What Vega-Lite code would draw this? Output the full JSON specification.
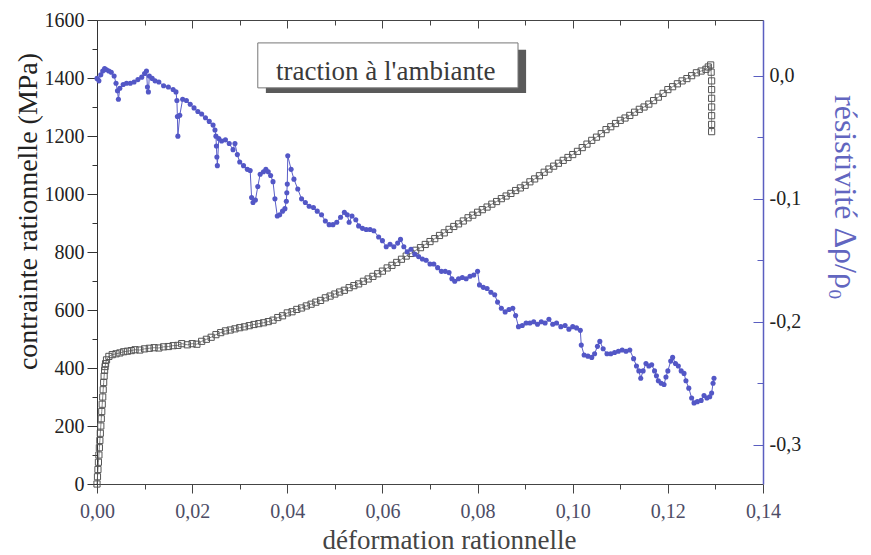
{
  "$schema": "https://vega.github.io/schema/vega-lite/v6.json",
  "width": 666,
  "height": 464,
  "autosize": {"type": "none"},
  "padding": {"left": 97, "top": 20, "right": 108, "bottom": 71},
  "background": "white",
  "config": {
    "view": {"stroke": null},
    "axis": {"grid": false, "labelFont": "Liberation Serif", "titleFont": "Liberation Serif", "titleFontWeight": "normal", "labelFlush": false, "labelOverlap": false}
  },
  "datasets": {
    "stress": [
      {"strain": 0.0000, "stress": 0}, {"strain": 0.0001, "stress": 25}, {"strain": 0.0002, "stress": 50},
      {"strain": 0.0003, "stress": 75}, {"strain": 0.0004, "stress": 100}, {"strain": 0.0005, "stress": 125},
      {"strain": 0.0006, "stress": 150}, {"strain": 0.0007, "stress": 175}, {"strain": 0.0008, "stress": 200},
      {"strain": 0.0009, "stress": 225}, {"strain": 0.0010, "stress": 250}, {"strain": 0.0011, "stress": 275},
      {"strain": 0.0012, "stress": 300}, {"strain": 0.0013, "stress": 325}, {"strain": 0.0014, "stress": 350},
      {"strain": 0.0015, "stress": 372}, {"strain": 0.0016, "stress": 392}, {"strain": 0.0017, "stress": 405},
      {"strain": 0.0018, "stress": 415}, {"strain": 0.0020, "stress": 428}, {"strain": 0.0025, "stress": 440},
      {"strain": 0.0032, "stress": 446}, {"strain": 0.0040, "stress": 449}, {"strain": 0.0048, "stress": 452},
      {"strain": 0.0056, "stress": 456}, {"strain": 0.0064, "stress": 458}, {"strain": 0.0072, "stress": 460},
      {"strain": 0.0080, "stress": 463}, {"strain": 0.0090, "stress": 462}, {"strain": 0.0100, "stress": 466},
      {"strain": 0.0110, "stress": 468}, {"strain": 0.0120, "stress": 470}, {"strain": 0.0130, "stress": 469},
      {"strain": 0.0140, "stress": 473}, {"strain": 0.0150, "stress": 474}, {"strain": 0.0160, "stress": 477},
      {"strain": 0.0170, "stress": 478}, {"strain": 0.0178, "stress": 484}, {"strain": 0.0190, "stress": 480},
      {"strain": 0.0200, "stress": 484}, {"strain": 0.0210, "stress": 482}, {"strain": 0.0220, "stress": 492},
      {"strain": 0.0230, "stress": 499}, {"strain": 0.0240, "stress": 506}, {"strain": 0.0250, "stress": 515},
      {"strain": 0.0260, "stress": 522}, {"strain": 0.0270, "stress": 528}, {"strain": 0.0280, "stress": 531},
      {"strain": 0.0290, "stress": 535}, {"strain": 0.0300, "stress": 539}, {"strain": 0.0310, "stress": 542},
      {"strain": 0.0320, "stress": 546}, {"strain": 0.0330, "stress": 550}, {"strain": 0.0340, "stress": 553},
      {"strain": 0.0350, "stress": 556}, {"strain": 0.0360, "stress": 560}, {"strain": 0.0370, "stress": 565},
      {"strain": 0.0380, "stress": 574}, {"strain": 0.0390, "stress": 580}, {"strain": 0.0400, "stress": 590},
      {"strain": 0.0410, "stress": 594}, {"strain": 0.0420, "stress": 602}, {"strain": 0.0430, "stress": 607},
      {"strain": 0.0440, "stress": 614}, {"strain": 0.0450, "stress": 620}, {"strain": 0.0460, "stress": 627},
      {"strain": 0.0470, "stress": 633}, {"strain": 0.0480, "stress": 642}, {"strain": 0.0490, "stress": 648},
      {"strain": 0.0500, "stress": 655}, {"strain": 0.0510, "stress": 662}, {"strain": 0.0520, "stress": 668},
      {"strain": 0.0530, "stress": 677}, {"strain": 0.0540, "stress": 684}, {"strain": 0.0550, "stress": 690},
      {"strain": 0.0560, "stress": 699}, {"strain": 0.0570, "stress": 707}, {"strain": 0.0580, "stress": 716},
      {"strain": 0.0590, "stress": 725}, {"strain": 0.0600, "stress": 734}, {"strain": 0.0610, "stress": 745},
      {"strain": 0.0620, "stress": 754}, {"strain": 0.0630, "stress": 764}, {"strain": 0.0640, "stress": 775},
      {"strain": 0.0650, "stress": 786}, {"strain": 0.0660, "stress": 795}, {"strain": 0.0670, "stress": 806},
      {"strain": 0.0680, "stress": 815}, {"strain": 0.0690, "stress": 826}, {"strain": 0.0700, "stress": 836},
      {"strain": 0.0710, "stress": 846}, {"strain": 0.0720, "stress": 857}, {"strain": 0.0730, "stress": 866},
      {"strain": 0.0740, "stress": 878}, {"strain": 0.0750, "stress": 888}, {"strain": 0.0760, "stress": 897},
      {"strain": 0.0770, "stress": 907}, {"strain": 0.0780, "stress": 918}, {"strain": 0.0790, "stress": 927},
      {"strain": 0.0800, "stress": 937}, {"strain": 0.0810, "stress": 946}, {"strain": 0.0820, "stress": 955},
      {"strain": 0.0830, "stress": 965}, {"strain": 0.0840, "stress": 974}, {"strain": 0.0850, "stress": 984},
      {"strain": 0.0860, "stress": 993}, {"strain": 0.0870, "stress": 1002}, {"strain": 0.0880, "stress": 1012},
      {"strain": 0.0890, "stress": 1021}, {"strain": 0.0900, "stress": 1030}, {"strain": 0.0910, "stress": 1042},
      {"strain": 0.0920, "stress": 1052}, {"strain": 0.0930, "stress": 1063}, {"strain": 0.0940, "stress": 1075},
      {"strain": 0.0950, "stress": 1086}, {"strain": 0.0960, "stress": 1096}, {"strain": 0.0970, "stress": 1106},
      {"strain": 0.0980, "stress": 1116}, {"strain": 0.0990, "stress": 1126}, {"strain": 0.1000, "stress": 1136},
      {"strain": 0.1010, "stress": 1147}, {"strain": 0.1020, "stress": 1160}, {"strain": 0.1030, "stress": 1172},
      {"strain": 0.1040, "stress": 1185}, {"strain": 0.1050, "stress": 1196}, {"strain": 0.1060, "stress": 1208},
      {"strain": 0.1070, "stress": 1222}, {"strain": 0.1080, "stress": 1232}, {"strain": 0.1090, "stress": 1243},
      {"strain": 0.1100, "stress": 1254}, {"strain": 0.1110, "stress": 1262}, {"strain": 0.1120, "stress": 1271},
      {"strain": 0.1130, "stress": 1282}, {"strain": 0.1140, "stress": 1292}, {"strain": 0.1150, "stress": 1300},
      {"strain": 0.1160, "stress": 1310}, {"strain": 0.1170, "stress": 1322}, {"strain": 0.1180, "stress": 1334},
      {"strain": 0.1190, "stress": 1347}, {"strain": 0.1200, "stress": 1360}, {"strain": 0.1210, "stress": 1370},
      {"strain": 0.1220, "stress": 1380}, {"strain": 0.1230, "stress": 1390}, {"strain": 0.1240, "stress": 1398},
      {"strain": 0.1250, "stress": 1408}, {"strain": 0.1260, "stress": 1418}, {"strain": 0.1270, "stress": 1424},
      {"strain": 0.1280, "stress": 1430}, {"strain": 0.1285, "stress": 1438}, {"strain": 0.1290, "stress": 1445},
      {"strain": 0.1291, "stress": 1420}, {"strain": 0.1292, "stress": 1390}, {"strain": 0.1292, "stress": 1360},
      {"strain": 0.1292, "stress": 1330}, {"strain": 0.1292, "stress": 1300}, {"strain": 0.1292, "stress": 1270},
      {"strain": 0.1292, "stress": 1240}, {"strain": 0.1292, "stress": 1215}
    ],
    "rho": [
      {"strain": 0.0000, "rho": -0.002}, {"strain": 0.0004, "rho": -0.004}, {"strain": 0.0008, "rho": 0.001},
      {"strain": 0.0012, "rho": 0.004}, {"strain": 0.0016, "rho": 0.006}, {"strain": 0.0020, "rho": 0.005},
      {"strain": 0.0025, "rho": 0.004}, {"strain": 0.0030, "rho": 0.003}, {"strain": 0.0036, "rho": 0.000},
      {"strain": 0.0040, "rho": -0.006}, {"strain": 0.0043, "rho": -0.012}, {"strain": 0.0045, "rho": -0.019},
      {"strain": 0.0048, "rho": -0.010}, {"strain": 0.0055, "rho": -0.007}, {"strain": 0.0062, "rho": -0.006},
      {"strain": 0.0070, "rho": -0.006}, {"strain": 0.0078, "rho": -0.005}, {"strain": 0.0086, "rho": -0.003},
      {"strain": 0.0094, "rho": -0.001}, {"strain": 0.0100, "rho": 0.002}, {"strain": 0.0104, "rho": 0.004},
      {"strain": 0.0106, "rho": -0.009}, {"strain": 0.0108, "rho": -0.013}, {"strain": 0.0110, "rho": 0.000},
      {"strain": 0.0116, "rho": -0.002}, {"strain": 0.0122, "rho": -0.004}, {"strain": 0.0130, "rho": -0.005},
      {"strain": 0.0140, "rho": -0.008}, {"strain": 0.0150, "rho": -0.009}, {"strain": 0.0160, "rho": -0.011},
      {"strain": 0.0166, "rho": -0.013}, {"strain": 0.0168, "rho": -0.020}, {"strain": 0.0169, "rho": -0.033},
      {"strain": 0.0170, "rho": -0.049}, {"strain": 0.0174, "rho": -0.032}, {"strain": 0.0180, "rho": -0.019},
      {"strain": 0.0188, "rho": -0.020}, {"strain": 0.0196, "rho": -0.023}, {"strain": 0.0204, "rho": -0.026},
      {"strain": 0.0212, "rho": -0.029}, {"strain": 0.0220, "rho": -0.031}, {"strain": 0.0228, "rho": -0.034},
      {"strain": 0.0236, "rho": -0.037}, {"strain": 0.0244, "rho": -0.040}, {"strain": 0.0248, "rho": -0.044},
      {"strain": 0.0250, "rho": -0.049}, {"strain": 0.0251, "rho": -0.057}, {"strain": 0.0252, "rho": -0.066},
      {"strain": 0.0253, "rho": -0.073}, {"strain": 0.0256, "rho": -0.051}, {"strain": 0.0262, "rho": -0.053},
      {"strain": 0.0270, "rho": -0.052}, {"strain": 0.0278, "rho": -0.055}, {"strain": 0.0286, "rho": -0.060},
      {"strain": 0.0290, "rho": -0.055}, {"strain": 0.0295, "rho": -0.064}, {"strain": 0.0300, "rho": -0.070},
      {"strain": 0.0308, "rho": -0.073}, {"strain": 0.0316, "rho": -0.076}, {"strain": 0.0322, "rho": -0.077},
      {"strain": 0.0325, "rho": -0.099}, {"strain": 0.0328, "rho": -0.103}, {"strain": 0.0333, "rho": -0.101},
      {"strain": 0.0338, "rho": -0.090}, {"strain": 0.0343, "rho": -0.080}, {"strain": 0.0350, "rho": -0.078},
      {"strain": 0.0355, "rho": -0.076}, {"strain": 0.0360, "rho": -0.078}, {"strain": 0.0365, "rho": -0.081},
      {"strain": 0.0370, "rho": -0.086}, {"strain": 0.0374, "rho": -0.100}, {"strain": 0.0379, "rho": -0.114},
      {"strain": 0.0384, "rho": -0.113}, {"strain": 0.0390, "rho": -0.110}, {"strain": 0.0395, "rho": -0.108},
      {"strain": 0.0398, "rho": -0.102}, {"strain": 0.0399, "rho": -0.095}, {"strain": 0.0400, "rho": -0.088},
      {"strain": 0.0401, "rho": -0.065}, {"strain": 0.0408, "rho": -0.076}, {"strain": 0.0414, "rho": -0.084},
      {"strain": 0.0422, "rho": -0.092}, {"strain": 0.0430, "rho": -0.100}, {"strain": 0.0438, "rho": -0.103},
      {"strain": 0.0446, "rho": -0.106}, {"strain": 0.0455, "rho": -0.107}, {"strain": 0.0463, "rho": -0.110},
      {"strain": 0.0472, "rho": -0.113}, {"strain": 0.0480, "rho": -0.118}, {"strain": 0.0488, "rho": -0.121},
      {"strain": 0.0496, "rho": -0.121}, {"strain": 0.0504, "rho": -0.119}, {"strain": 0.0512, "rho": -0.115},
      {"strain": 0.0520, "rho": -0.111}, {"strain": 0.0526, "rho": -0.113}, {"strain": 0.0530, "rho": -0.119},
      {"strain": 0.0536, "rho": -0.114}, {"strain": 0.0544, "rho": -0.117}, {"strain": 0.0550, "rho": -0.122},
      {"strain": 0.0558, "rho": -0.124}, {"strain": 0.0566, "rho": -0.125}, {"strain": 0.0574, "rho": -0.125},
      {"strain": 0.0582, "rho": -0.126}, {"strain": 0.0592, "rho": -0.131}, {"strain": 0.0600, "rho": -0.134},
      {"strain": 0.0608, "rho": -0.139}, {"strain": 0.0616, "rho": -0.137}, {"strain": 0.0624, "rho": -0.139},
      {"strain": 0.0632, "rho": -0.136}, {"strain": 0.0638, "rho": -0.133}, {"strain": 0.0645, "rho": -0.139},
      {"strain": 0.0652, "rho": -0.143}, {"strain": 0.0660, "rho": -0.141}, {"strain": 0.0668, "rho": -0.145},
      {"strain": 0.0676, "rho": -0.147}, {"strain": 0.0684, "rho": -0.149}, {"strain": 0.0692, "rho": -0.150},
      {"strain": 0.0700, "rho": -0.153}, {"strain": 0.0708, "rho": -0.153}, {"strain": 0.0716, "rho": -0.156},
      {"strain": 0.0724, "rho": -0.159}, {"strain": 0.0732, "rho": -0.159}, {"strain": 0.0740, "rho": -0.160},
      {"strain": 0.0746, "rho": -0.165}, {"strain": 0.0752, "rho": -0.167}, {"strain": 0.0760, "rho": -0.165},
      {"strain": 0.0768, "rho": -0.164}, {"strain": 0.0776, "rho": -0.165}, {"strain": 0.0784, "rho": -0.163},
      {"strain": 0.0792, "rho": -0.162}, {"strain": 0.0800, "rho": -0.159}, {"strain": 0.0804, "rho": -0.170},
      {"strain": 0.0812, "rho": -0.172}, {"strain": 0.0820, "rho": -0.173}, {"strain": 0.0828, "rho": -0.176},
      {"strain": 0.0836, "rho": -0.178}, {"strain": 0.0842, "rho": -0.184}, {"strain": 0.0850, "rho": -0.189},
      {"strain": 0.0858, "rho": -0.192}, {"strain": 0.0866, "rho": -0.190}, {"strain": 0.0874, "rho": -0.189},
      {"strain": 0.0880, "rho": -0.195}, {"strain": 0.0886, "rho": -0.204}, {"strain": 0.0894, "rho": -0.203},
      {"strain": 0.0902, "rho": -0.201}, {"strain": 0.0910, "rho": -0.201}, {"strain": 0.0918, "rho": -0.200},
      {"strain": 0.0926, "rho": -0.202}, {"strain": 0.0934, "rho": -0.200}, {"strain": 0.0942, "rho": -0.201},
      {"strain": 0.0950, "rho": -0.198}, {"strain": 0.0958, "rho": -0.202}, {"strain": 0.0966, "rho": -0.201},
      {"strain": 0.0975, "rho": -0.204}, {"strain": 0.0984, "rho": -0.203}, {"strain": 0.0992, "rho": -0.206},
      {"strain": 0.1000, "rho": -0.204}, {"strain": 0.1008, "rho": -0.205}, {"strain": 0.1016, "rho": -0.207},
      {"strain": 0.1018, "rho": -0.219}, {"strain": 0.1024, "rho": -0.227}, {"strain": 0.1032, "rho": -0.228},
      {"strain": 0.1040, "rho": -0.229}, {"strain": 0.1046, "rho": -0.226}, {"strain": 0.1052, "rho": -0.220},
      {"strain": 0.1057, "rho": -0.216}, {"strain": 0.1064, "rho": -0.222}, {"strain": 0.1072, "rho": -0.226},
      {"strain": 0.1080, "rho": -0.226}, {"strain": 0.1088, "rho": -0.225}, {"strain": 0.1096, "rho": -0.224},
      {"strain": 0.1104, "rho": -0.223}, {"strain": 0.1112, "rho": -0.224}, {"strain": 0.1120, "rho": -0.223},
      {"strain": 0.1128, "rho": -0.230}, {"strain": 0.1134, "rho": -0.236}, {"strain": 0.1139, "rho": -0.240},
      {"strain": 0.1143, "rho": -0.246}, {"strain": 0.1148, "rho": -0.240}, {"strain": 0.1154, "rho": -0.234},
      {"strain": 0.1160, "rho": -0.236}, {"strain": 0.1166, "rho": -0.235}, {"strain": 0.1172, "rho": -0.240},
      {"strain": 0.1176, "rho": -0.244}, {"strain": 0.1180, "rho": -0.248}, {"strain": 0.1186, "rho": -0.250},
      {"strain": 0.1192, "rho": -0.251}, {"strain": 0.1196, "rho": -0.245}, {"strain": 0.1200, "rho": -0.240},
      {"strain": 0.1206, "rho": -0.232}, {"strain": 0.1210, "rho": -0.229}, {"strain": 0.1216, "rho": -0.234},
      {"strain": 0.1222, "rho": -0.236}, {"strain": 0.1228, "rho": -0.240}, {"strain": 0.1234, "rho": -0.242},
      {"strain": 0.1238, "rho": -0.248}, {"strain": 0.1244, "rho": -0.254}, {"strain": 0.1250, "rho": -0.262},
      {"strain": 0.1255, "rho": -0.266}, {"strain": 0.1262, "rho": -0.265}, {"strain": 0.1270, "rho": -0.264},
      {"strain": 0.1276, "rho": -0.260}, {"strain": 0.1282, "rho": -0.262}, {"strain": 0.1288, "rho": -0.261},
      {"strain": 0.1292, "rho": -0.258}, {"strain": 0.1295, "rho": -0.250}, {"strain": 0.1297, "rho": -0.246}
    ]
  },
  "layer": [
    {
      "data": {"values": [{}]},
      "mark": {"type": "rect", "fill": "#5a5a5a"},
      "encoding": {
        "x": {"datum": 0.0355, "type": "quantitative", "scale": {"domain": [0, 0.14], "nice": false}, "axis": null},
        "x2": {"datum": 0.0902},
        "y": {"datum": 1497, "type": "quantitative", "scale": {"domain": [0, 1600], "nice": false}, "axis": null},
        "y2": {"datum": 1348}
      }
    },
    {
      "data": {"values": [{}]},
      "mark": {"type": "rect", "fill": "white", "stroke": "#777", "strokeWidth": 1},
      "encoding": {
        "x": {"datum": 0.0338, "type": "quantitative", "scale": {"domain": [0, 0.14], "nice": false}, "axis": null},
        "x2": {"datum": 0.0885},
        "y": {"datum": 1521, "type": "quantitative", "scale": {"domain": [0, 1600], "nice": false}, "axis": null},
        "y2": {"datum": 1366}
      }
    },
    {
      "data": {"values": [{}]},
      "mark": {"type": "text", "font": "Liberation Serif", "fontSize": 27, "color": "#3a3a3a", "align": "center", "baseline": "alphabetic"},
      "encoding": {
        "x": {"datum": 0.0607, "type": "quantitative", "scale": {"domain": [0, 0.14], "nice": false}, "axis": null},
        "y": {"datum": 1393, "type": "quantitative", "scale": {"domain": [0, 1600], "nice": false}, "axis": null},
        "text": {"value": "traction à l'ambiante"}
      }
    },
    {
      "data": {"name": "stress"},
      "mark": {"type": "line", "color": "#666", "strokeWidth": 0.8},
      "encoding": {
        "x": {"field": "strain", "type": "quantitative", "scale": {"domain": [0, 0.14], "nice": false}, "axis": null},
        "y": {"field": "stress", "type": "quantitative", "scale": {"domain": [0, 1600], "nice": false}, "axis": null},
        "order": {"value": null}
      }
    },
    {
      "data": {"name": "stress"},
      "mark": {"type": "point", "shape": "square", "filled": false, "size": 38, "stroke": "#555", "strokeWidth": 1, "opacity": 1},
      "encoding": {
        "x": {
          "field": "strain", "type": "quantitative",
          "scale": {"domain": [0, 0.14], "nice": false},
          "axis": {
            "orient": "bottom",
            "values": [0, 0.01, 0.02, 0.03, 0.04, 0.05, 0.06, 0.07, 0.08, 0.09, 0.1, 0.11, 0.12, 0.13, 0.14],
            "labelExpr": "round(datum.value*100) % 2 === 0 ? replace(format(datum.value, '.2f'), '.', ',') : ''",
            "labelFontSize": 20, "labelColor": "#4d4d66", "labelPadding": 8,
            "tickSize": {"condition": {"test": "round(datum.value*100) % 2 === 0", "value": 9}, "value": 5},
            "tickColor": "#444", "domainColor": "#444",
            "title": "déformation rationnelle", "titleFontSize": 27, "titleColor": "#444",
            "titleX": 352, "titleY": 43, "titleBaseline": "top", "titleAlign": "center"
          }
        },
        "y": {
          "field": "stress", "type": "quantitative",
          "scale": {"domain": [0, 1600], "nice": false},
          "axis": {
            "orient": "left",
            "values": [0, 100, 200, 300, 400, 500, 600, 700, 800, 900, 1000, 1100, 1200, 1300, 1400, 1500, 1600],
            "format": "d",
            "labelExpr": "round(datum.value) % 200 === 0 ? datum.label : ''",
            "labelFontSize": 20, "labelColor": "#222", "labelPadding": 3,
            "tickSize": {"condition": {"test": "round(datum.value) % 200 === 0", "value": 10}, "value": 5},
            "tickColor": "#333", "domainColor": "#333",
            "title": "contrainte rationnelle (MPa)", "titleFontSize": 28, "titleColor": "#222",
            "titleX": -55, "titleY": 191, "titleAngle": -90, "titleBaseline": "bottom", "titleAlign": "center"
          }
        },
        "order": {"value": null}
      }
    },
    {
      "data": {"name": "rho"},
      "mark": {"type": "line", "color": "#5a5ec8", "strokeWidth": 1},
      "encoding": {
        "x": {"field": "strain", "type": "quantitative", "scale": {"domain": [0, 0.14], "nice": false}, "axis": null},
        "y": {"field": "rho", "type": "quantitative", "scale": {"domain": [-0.332, 0.0455], "nice": false, "zero": false}, "axis": null},
        "order": {"value": null}
      }
    },
    {
      "data": {"name": "rho"},
      "mark": {"type": "point", "shape": "circle", "filled": true, "size": 26, "color": "#5357c6", "opacity": 1},
      "encoding": {
        "x": {
          "field": "strain", "type": "quantitative",
          "scale": {"domain": [0, 0.14], "nice": false},
          "axis": {
            "orient": "top",
            "values": [0, 0.01, 0.02, 0.03, 0.04, 0.05, 0.06, 0.07, 0.08, 0.09, 0.1, 0.11, 0.12, 0.13, 0.14],
            "labels": false,
            "tickSize": {"condition": {"test": "round(datum.value*100) % 2 === 0", "value": -8}, "value": -5},
            "tickColor": "#444", "domainColor": "#444", "title": null
          }
        },
        "y": {
          "field": "rho", "type": "quantitative",
          "scale": {"domain": [-0.332, 0.0455], "nice": false, "zero": false},
          "axis": {
            "orient": "right",
            "values": [-0.3, -0.25, -0.2, -0.15, -0.1, -0.05, 0],
            "labelExpr": "round(datum.value*100) % 10 === 0 ? replace(replace(format(datum.value, '.1f'), '.', ','), '−', '-') : ''",
            "labelFontSize": 20, "labelColor": "#222", "labelPadding": 16,
            "tickSize": {"condition": {"test": "round(datum.value*100) % 10 === 0", "value": -10}, "value": -6},
            "tickColor": "#5a5ec0", "domainColor": "#5a5ec0", "domainWidth": 1.5,
            "title": "résistivité Δρ/ρ₀", "titleFontSize": 32, "titleColor": "#6266c0",
            "titleX": 64, "titleY": 177, "titleAngle": 90, "titleBaseline": "bottom", "titleAlign": "center"
          }
        }
      }
    }
  ],
  "resolve": {"scale": {"y": "independent"}, "axis": {"x": "independent", "y": "independent"}}
}
